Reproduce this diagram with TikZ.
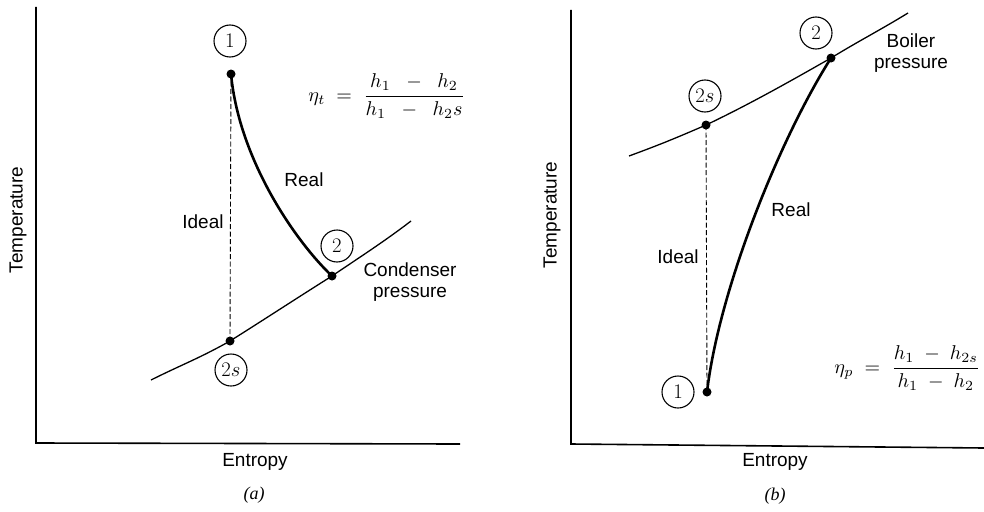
\documentclass[tikz,border=0pt]{standalone}
\usepackage{amsmath}
\usepackage{fontspec}
\setmainfont{Liberation Sans}
\newfontfamily\seriffont{Liberation Serif}
\begin{document}
\begin{tikzpicture}[x=1pt,y=-1pt,
  axis/.style={line width=1.6pt},
  pcurve/.style={line width=1.3pt},
  realc/.style={line width=2.6pt},
  ideal/.style={line width=0.9pt,dash pattern=on 5pt off 2.5pt},
  dot/.style={circle,fill=black,inner sep=0pt,minimum size=9pt},
  circ/.style={draw,circle,line width=1.1pt,inner sep=0pt,minimum size=32pt,font=\fontsize{20}{20}\selectfont},
  lab/.style={font=\fontsize{19}{21}\selectfont,inner sep=1pt},
  captext/.style={font=\seriffont\itshape\fontsize{18}{20}\selectfont},
  formula/.style={scale=2.0,inner sep=0pt}]
\useasboundingbox (0,0) rectangle (984,511);
\clip (0,0) rectangle (984,511);
\fill[white] (0,0) rectangle (984,511);
% ---------- panel (a)
\coordinate (oa) at (36,443);
\coordinate (ya) at (36,7);
\coordinate (xa) at (460,444);
\draw[axis] (ya) -- (oa) -- (xa);
\node[lab,rotate=90] (ta) at (18,220) {Temperature};
\node[lab] (ea) at (255,462) {Entropy};
\node[captext] (capa) at (254,495) {(a)};
\node[dot] (p1a) at (231,74) {};
\node[dot] (p2a) at (332,276) {};
\node[dot] (p2sa) at (230,341) {};
\coordinate (ca0) at (151,380);
\coordinate (ca1) at (411,221);
\draw[pcurve] (ca0) .. controls +(30,-15) and +(-30,17) .. (p2sa.center)
  .. controls +(35,-22) and +(-35,22) .. (p2a.center)
  .. controls +(28,-19) and +(-26,20) .. (ca1);
\draw[ideal] (p1a.center) -- (p2sa.center);
\draw[realc] (p1a.center) .. controls (239,160) and (296,242) .. (p2a.center);
\node[circ] (c1a) at (230,41) {$1$};
\node[circ] (c2a) at (337,246) {$2$};
\node[circ] (c2sa) at (231,370) {$2s$};
\node[lab] (ida) at (203,222) {Ideal};
\node[lab] (rea) at (304,180) {Real};
\node[lab,align=center] (cpa) at (410,282) {Condenser\\pressure};
\node[formula,anchor=west] (fa) at (308,96) {$\eta_t \;=\; \dfrac{h_1 \;\;-\;\; h_2}{h_1 \;\;-\;\; h_2 s}$};
% ---------- panel (b)
\coordinate (ob) at (571,444);
\coordinate (yb) at (571,10);
\coordinate (xb) at (984,448);
\draw[axis] (yb) -- (ob) -- (xb);
\node[lab,rotate=90] (tb) at (552,215) {Temperature};
\node[lab] (eb) at (775,462) {Entropy};
\node[captext] (capb) at (775,496) {(b)};
\node[dot] (p1b) at (707,392) {};
\node[dot] (p2b) at (831,58) {};
\node[dot] (p2sb) at (706,125) {};
\coordinate (cb0) at (629,156);
\coordinate (cb1) at (908,13);
\draw[pcurve] (cb0) .. controls +(30,-11) and +(-30,13) .. (p2sb.center)
  .. controls +(42,-20) and +(-42,24) .. (p2b.center)
  .. controls +(26,-16) and +(-26,16) .. (cb1);
\draw[ideal] (p2sb.center) -- (p1b.center);
\draw[realc] (p1b.center) .. controls (719,290) and (779,140) .. (p2b.center);
\node[circ] (c1b) at (678,392) {$1$};
\node[circ] (c2b) at (816,33) {$2$};
\node[circ] (c2sb) at (705,96) {$2s$};
\node[lab] (idb) at (678,257) {Ideal};
\node[lab] (reb) at (791,210) {Real};
\node[lab,align=center] (bpb) at (911,53) {Boiler\\pressure};
\node[formula,anchor=west] (fb) at (834,368) {$\eta_p \;=\; \dfrac{h_1 \;-\; h_{2s}}{h_1 \;-\; h_2}$};
\end{tikzpicture}
\end{document}
